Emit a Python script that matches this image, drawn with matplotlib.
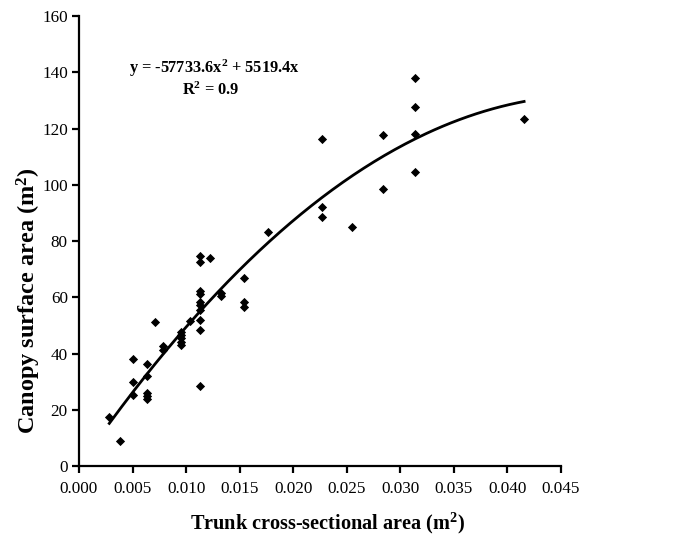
import numpy as np
import matplotlib
matplotlib.use('Agg')
import matplotlib.pyplot as plt

# trunk cross-sectional area (m2) and canopy surface area (m2)
trunk_area = [0.00283, 0.00385,
              0.00503, 0.00503, 0.00503,
              0.00636, 0.00636, 0.00636, 0.00636, 0.00636,
              0.00709,
              0.00785, 0.00785,
              0.0095, 0.0095, 0.0095, 0.0095, 0.0095,
              0.01039,
              0.01131, 0.01131, 0.01131, 0.01131, 0.01131,
              0.01131, 0.01131, 0.01131, 0.01131, 0.01131,
              0.01227,
              0.01327, 0.01327,
              0.01539, 0.01539, 0.01539,
              0.01767,
              0.0227, 0.0227, 0.0227,
              0.02545,
              0.02835, 0.02835,
              0.0314, 0.0314, 0.0314, 0.0314,
              0.04155]
canopy_area = [17.5, 8.9,
               37.9, 29.8, 25.2,
               36.2, 31.9, 26.0, 25.0, 24.0,
               51.4,
               42.7, 41.1,
               47.8, 46.6, 45.4, 44.2, 43.2,
               51.7,
               74.6, 72.6, 62.3, 61.3, 58.3,
               57.1, 55.5, 51.8, 48.3, 28.3,
               73.9,
               61.5, 60.6,
               66.8, 58.2, 56.4,
               83.4,
               116.3, 92.1, 88.5,
               85.1,
               117.6, 98.5,
               138.1, 127.8, 118.0, 104.6,
               123.6]

# quadratic fit through the origin, as printed on the chart
a2 = -57733.6
a1 = 5519.4

plt.rcParams['font.family'] = ['Liberation Serif', 'DejaVu Serif']
plt.rcParams['mathtext.fontset'] = 'custom'
plt.rcParams['mathtext.rm'] = 'Liberation Serif'
plt.rcParams['mathtext.bf'] = 'Liberation Serif:bold'
plt.rcParams['mathtext.it'] = 'Liberation Serif:italic'

fig = plt.figure(figsize=(6.79, 5.39), dpi=100)
ax = fig.add_axes([0.1163, 0.1354, 0.7100, 0.8346])

ax.scatter(trunk_area, canopy_area, marker='D', s=22, color='black', zorder=3, linewidths=0)

xfit = np.linspace(min(trunk_area), max(trunk_area), 200)
ax.plot(xfit, a2 * xfit**2 + a1 * xfit, color='black', linewidth=2, zorder=2)

ax.set_xlim(0, 0.045)
ax.set_ylim(0, 160)
ax.set_xticks(np.arange(0, 0.0451, 0.005))
ax.set_xticklabels(['%.3f' % v for v in np.arange(0, 0.0451, 0.005)])
ax.set_yticks(np.arange(0, 161, 20))

for s in ['top', 'right']:
    ax.spines[s].set_visible(False)
for s in ['left', 'bottom']:
    ax.spines[s].set_linewidth(1.6)
ax.tick_params(direction='out', length=5, width=1.6, labelsize=12.3)
ax.tick_params(axis='x', pad=6)
ax.tick_params(axis='y', pad=3)

ax.set_xlabel('Trunk cross-sectional area (m$^\\mathbf{2}$)', fontsize=14.6, fontweight='bold', va='center')
ax.xaxis.set_label_coords(0.515, -0.127)
ax.set_ylabel('Canopy surface area (m$^\\mathbf{2}$)', fontsize=17.5, fontweight='bold', va='center')
ax.yaxis.set_label_coords(-0.103, 0.367)

ax.text(0.0126, 141.6, 'y = -57733.6x$^\\mathbf{2}$ + 5519.4x', fontsize=11.8, fontweight='bold', ha='center', va='center')
ax.text(0.0123, 133.6, 'R$^\\mathbf{2}$ = 0.9', fontsize=11.8, fontweight='bold', ha='center', va='center')

fig.savefig('out.png', dpi=100)
